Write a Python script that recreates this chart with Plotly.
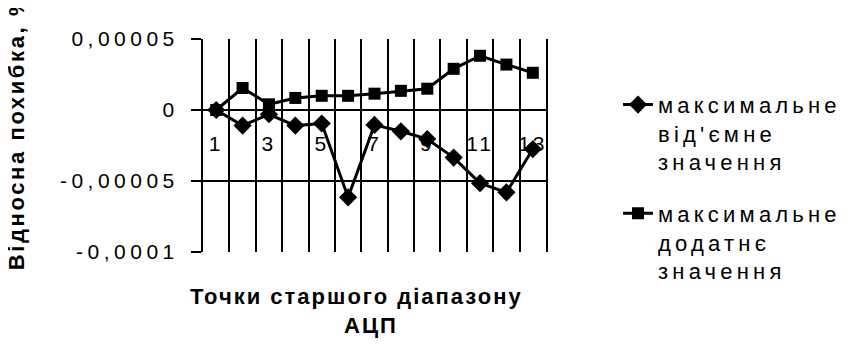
import plotly.graph_objects as go

# ---- data ----
categories = list(range(1, 14))
neg_values = [0, -1.1e-5, -0.3e-5, -1.1e-5, -0.95e-5, -6.15e-5, -1.05e-5,
              -1.5e-5, -2.05e-5, -3.35e-5, -5.15e-5, -5.8e-5, -2.75e-5]
pos_values = [0, 1.55e-5, 0.4e-5, 0.85e-5, 1.0e-5, 1.0e-5, 1.15e-5,
              1.35e-5, 1.5e-5, 2.9e-5, 3.82e-5, 3.2e-5, 2.62e-5]
neg_name_lines = ["максимальне", "від'ємне", "значення"]
pos_name_lines = ["максимальне", "додатнє", "значення"]
x_ticklabels_vals = [1, 3, 5, 7, 9, 11, 13]
y_tickvals = [0.00005, 0, -0.00005, -0.0001]
y_ticktext = ["0,00005", "0", "-0,00005", "-0,0001"]
x_title_lines = ["Точки старшого діапазону", "АЦП"]
y_title = "Відносна похибка, %"

FONT = "Liberation Sans, Arial, sans-serif"


def spaced(text, ls):
    return f'<span style="letter-spacing:{ls}px">{text}</span>'


def spaced_lines(lines, ls):
    return "<br>".join(spaced(l, ls) for l in lines)


fig = go.Figure()
fig.add_trace(go.Scatter(
    x=categories, y=neg_values, name=spaced_lines(neg_name_lines, 4.2),
    mode="lines+markers",
    line=dict(color="black", width=3),
    marker=dict(symbol="diamond", size=14, color="black"),
    legendgroup="a",
))
fig.add_trace(go.Scatter(
    x=categories, y=pos_values, name=spaced_lines(pos_name_lines, 4.2),
    mode="lines+markers",
    line=dict(color="black", width=3),
    marker=dict(symbol="square", size=12, color="black"),
    legendgroup="b",
))

boundaries = [c - 0.5 for c in categories] + [categories[-1] + 0.5]

# page body has an 8px margin, so the figure is placed 8px in from the corner
W, H = 850, 339
L, T = 195, 31
R = W - 542
B = H - 244
PW, PH = 347, 213

fig.update_layout(
    width=W, height=H,
    margin=dict(l=L, r=R, t=T, b=B),
    paper_bgcolor="white", plot_bgcolor="white",
    font=dict(family=FONT, size=21, color="black"),
    showlegend=True,
    legend=dict(
        x=1.21, y=0.79, xanchor="left", yanchor="top",
        font=dict(family=FONT, size=22, color="black"),
        valign="top", tracegroupgap=20, bgcolor="rgba(0,0,0,0)",
    ),
    xaxis=dict(
        range=[boundaries[0], boundaries[-1]],
        anchor="free", position=2 / 3,
        tickvals=x_ticklabels_vals,
        ticktext=[spaced(str(v), 3) for v in x_ticklabels_vals],
        ticks="", showline=False, showgrid=False, zeroline=False,
        ticklabelstandoff=19,
        tickfont=dict(family=FONT, size=21, color="black"),
        minor=dict(tickvals=boundaries, showgrid=True, gridcolor="black",
                   gridwidth=2, ticks=""),
    ),
    yaxis=dict(
        range=[-0.0001, 0.00005],
        tickvals=y_tickvals, ticktext=[spaced(t, 4.5) for t in y_ticktext],
        showgrid=True, gridcolor="black", gridwidth=2,
        zeroline=True, zerolinecolor="black", zerolinewidth=2,
        showline=True, linecolor="black", linewidth=2, mirror=True,
        ticks="outside", ticklen=10, tickwidth=2, tickcolor="black",
        ticklabelstandoff=8,
        tickfont=dict(family=FONT, size=21, color="black"),
    ),
    annotations=[
        dict(text=spaced(x_title_lines[0], 2), xref="paper", yref="paper",
             x=(350 - L) / PW, y=-0.139,
             xanchor="center", yanchor="top", showarrow=False,
             font=dict(family=FONT, size=22, color="black", weight="bold")),
        dict(text=spaced(x_title_lines[1], 2), xref="paper", yref="paper",
             x=(365 - L) / PW, y=-0.139 - 29 / PH,
             xanchor="center", yanchor="top", showarrow=False,
             font=dict(family=FONT, size=22, color="black", weight="bold")),
        dict(text=spaced(y_title, 2.6), xref="paper", yref="paper",
             x=-(L - 6) / PW, y=(244 - 124) / PH,
             xanchor="center", yanchor="middle", textangle=-90, showarrow=False,
             font=dict(family=FONT, size=22, color="black", weight="bold")),
    ],
)

fig.write_html("out.html")
